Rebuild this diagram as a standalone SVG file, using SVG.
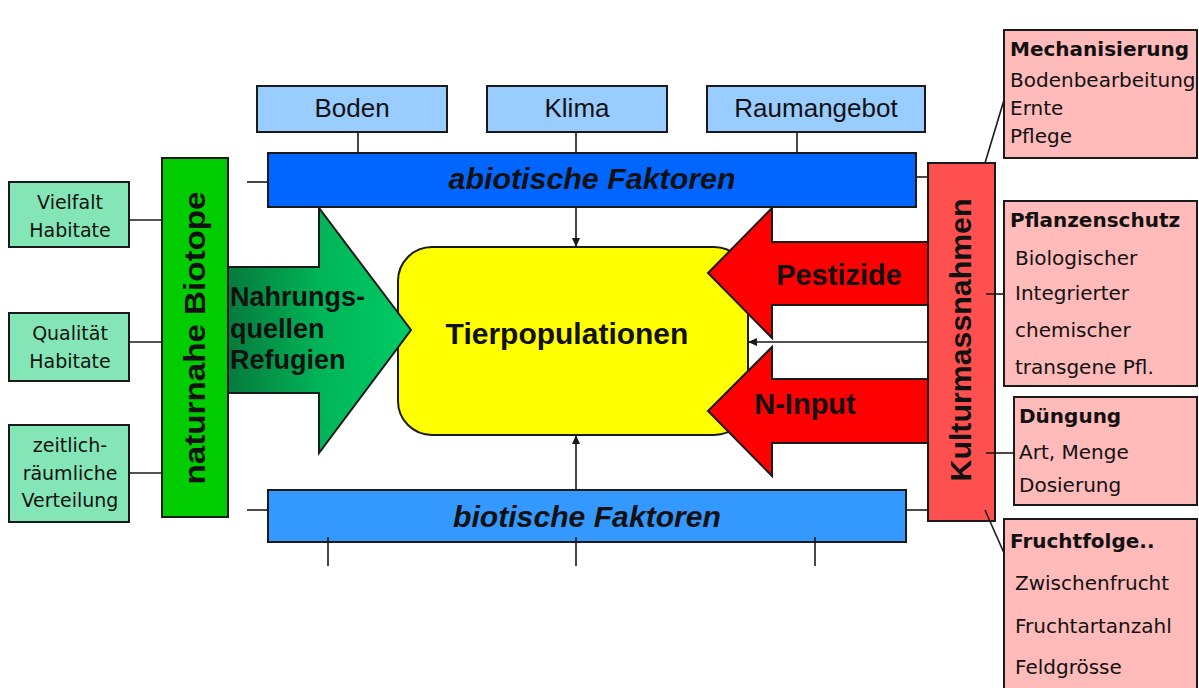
<svg xmlns="http://www.w3.org/2000/svg" width="1199" height="688" viewBox="0 0 1199 688">
<style>
.box{stroke:#1a1a1a;stroke-width:2}
.ln{stroke:#1a1a1a;stroke-width:1.6;fill:none}
.sm{font-family:"DejaVu Sans",sans-serif;font-size:19px;fill:#111}
.rt{font-family:"DejaVu Sans",sans-serif;font-size:20px;fill:#111}
.rb{font-family:"DejaVu Sans",sans-serif;font-size:20px;font-weight:bold;fill:#111}
.top{font-family:"Liberation Sans",Arial,sans-serif;font-size:26px;fill:#111}
.big{font-family:"Liberation Sans",Arial,sans-serif;font-weight:bold;fill:#111}
.it{font-family:"Liberation Sans",Arial,sans-serif;font-weight:bold;font-style:italic;font-size:30px;fill:#111}
.mint{fill:#84e6b6}
.pink{fill:#ffbaba}
.lblue{fill:#99ccff}
</style>
<defs>
<linearGradient id="gg" x1="228" y1="0" x2="411" y2="0" gradientUnits="userSpaceOnUse">
<stop offset="0" stop-color="#067a3c"/>
<stop offset="0.5" stop-color="#00b457"/>
<stop offset="1" stop-color="#00cc66"/>
</linearGradient>
<marker id="ah" markerUnits="userSpaceOnUse" markerWidth="9" markerHeight="8" refX="9" refY="4" orient="auto">
<path d="M0,0 L9,4 L0,8 z" fill="#1a1a1a"/>
</marker>
</defs>
<rect width="1199" height="688" fill="#ffffff"/>

<g id="vielfalt">
<rect class="box mint" x="9" y="182" width="120" height="65"/>
<text class="sm" x="70" y="209" text-anchor="middle">Vielfalt</text>
<text class="sm" x="70" y="237" text-anchor="middle">Habitate</text>
</g>
<g id="qualitaet">
<rect class="box mint" x="9" y="313" width="120" height="68"/>
<text class="sm" x="70" y="340" text-anchor="middle">Qualität</text>
<text class="sm" x="70" y="368" text-anchor="middle">Habitate</text>
</g>
<g id="zeitlich">
<rect class="box mint" x="9" y="425" width="120" height="97"/>
<text class="sm" x="70" y="452" text-anchor="middle">zeitlich-</text>
<text class="sm" x="70" y="480" text-anchor="middle">räumliche</text>
<text class="sm" x="70" y="507" text-anchor="middle">Verteilung</text>
</g>
<g id="biotope">
<rect class="box" x="162" y="158" width="66" height="359" fill="#00cc00"/>
<text class="big" font-size="30" transform="translate(205,338) rotate(-90)" text-anchor="middle" textLength="293" lengthAdjust="spacingAndGlyphs">naturnahe Biotope</text>
</g>

<g id="boden">
<rect class="box lblue" x="257" y="86" width="190" height="46"/>
<text class="top" x="352" y="117" text-anchor="middle">Boden</text>
</g>
<g id="klima">
<rect class="box lblue" x="487" y="86" width="180" height="46"/>
<text class="top" x="577" y="117" text-anchor="middle">Klima</text>
</g>
<g id="raumangebot">
<rect class="box lblue" x="707" y="86" width="218" height="46"/>
<text class="top" x="816" y="117" text-anchor="middle">Raumangebot</text>
</g>

<g id="abiotisch">
<rect class="box" x="268" y="153" width="648" height="54" fill="#0066ff"/>
<text class="it" x="592" y="189" text-anchor="middle" textLength="287" lengthAdjust="spacingAndGlyphs">abiotische Faktoren</text>
</g>
<g id="biotisch">
<rect class="box" x="268" y="490" width="638" height="52" fill="#3399ff"/>
<text class="it" x="587" y="527" text-anchor="middle" textLength="268" lengthAdjust="spacingAndGlyphs">biotische Faktoren</text>
</g>

<g id="tierpopulationen">
<rect class="box" x="398" y="247" width="350" height="188" rx="34" ry="34" fill="#ffff00"/>
<text class="big" font-size="30" x="567" y="344" text-anchor="middle">Tierpopulationen</text>
</g>

<g id="nahrungsquellen">
<path class="box" d="M228,267 L319,267 L319,208 L411,330 L319,453 L319,393 L228,393 z" fill="url(#gg)" stroke-width="1.5"/>
<text class="big" font-size="27" x="230" y="306">Nahrungs-</text>
<text class="big" font-size="27" x="230" y="338">quellen</text>
<text class="big" font-size="27" x="230" y="369">Refugien</text>
</g>

<g id="pestizide">
<path class="box" d="M928,242 L772,242 L772,208 L708,273 L772,338 L772,305 L928,305 z" fill="#ff0000" stroke-width="1.5"/>
<text class="big" font-size="29" x="839" y="285" text-anchor="middle">Pestizide</text>
</g>
<g id="ninput">
<path class="box" d="M928,379 L772,379 L772,347 L708,411 L772,476 L772,443 L928,443 z" fill="#ff0000" stroke-width="1.5"/>
<text class="big" font-size="29" x="805" y="414" text-anchor="middle">N-Input</text>
</g>

<g id="kulturmassnahmen">
<rect class="box" x="928" y="163" width="67" height="358" fill="#ff5050"/>
<text class="big" font-size="30" transform="translate(971,340) rotate(-90)" text-anchor="middle" textLength="283" lengthAdjust="spacingAndGlyphs">Kulturmassnahmen</text>
</g>

<g id="mechanisierung">
<rect class="box pink" x="1004" y="30" width="193" height="128"/>
<text class="rb" font-size="19.5" x="1010" y="56">Mechanisierung</text>
<text class="rt" font-size="18.2" x="1010" y="87">Bodenbearbeitung</text>
<text class="rt" font-size="18.2" x="1010" y="115">Ernte</text>
<text class="rt" font-size="18.2" x="1010" y="143">Pflege</text>
</g>
<g id="pflanzenschutz">
<rect class="box pink" x="1004" y="201" width="193" height="185"/>
<text class="rb" x="1010" y="227">Pflanzenschutz</text>
<text class="rt" x="1015" y="265">Biologischer</text>
<text class="rt" x="1015" y="300">Integrierter</text>
<text class="rt" x="1015" y="337">chemischer</text>
<text class="rt" x="1015" y="374">transgene Pfl.</text>
</g>
<g id="duengung">
<rect class="box pink" x="1014" y="397" width="183" height="108"/>
<text class="rb" x="1019" y="423">Düngung</text>
<text class="rt" x="1019" y="459">Art, Menge</text>
<text class="rt" x="1019" y="492">Dosierung</text>
</g>
<g id="fruchtfolge">
<rect class="box pink" x="1004" y="519" width="193" height="175"/>
<text class="rb" font-size="21" x="1010" y="548">Fruchtfolge..</text>
<text class="rt" x="1015" y="590">Zwischenfrucht</text>
<text class="rt" x="1015" y="633">Fruchtartanzahl</text>
<text class="rt" x="1015" y="674">Feldgrösse</text>
</g>

<g id="connectors">
<line class="ln" x1="129" y1="220" x2="162" y2="220"/>
<line class="ln" x1="129" y1="342" x2="162" y2="342"/>
<line class="ln" x1="129" y1="473" x2="162" y2="473"/>
<line class="ln" x1="358" y1="132" x2="358" y2="153"/>
<line class="ln" x1="576" y1="132" x2="576" y2="153"/>
<line class="ln" x1="797" y1="132" x2="797" y2="153"/>
<line class="ln" x1="247" y1="182" x2="268" y2="182"/>
<line class="ln" x1="916" y1="177" x2="928" y2="177"/>
<line class="ln" x1="247" y1="510" x2="268" y2="510"/>
<line class="ln" x1="906" y1="510" x2="928" y2="510"/>
<line class="ln" x1="328" y1="537" x2="328" y2="566"/>
<line class="ln" x1="576" y1="537" x2="576" y2="566"/>
<line class="ln" x1="815" y1="537" x2="815" y2="566"/>
<line class="ln" x1="576" y1="207" x2="576" y2="247" marker-end="url(#ah)"/>
<line class="ln" x1="576" y1="490" x2="576" y2="435" marker-end="url(#ah)"/>
<line class="ln" x1="928" y1="342" x2="748" y2="342" marker-end="url(#ah)"/>
<line class="ln" x1="985" y1="163" x2="1004" y2="100"/>
<line class="ln" x1="986" y1="294" x2="1004" y2="294"/>
<line class="ln" x1="986" y1="453" x2="1014" y2="453"/>
<line class="ln" x1="985" y1="510" x2="1004" y2="553"/>
</g>
</svg>
